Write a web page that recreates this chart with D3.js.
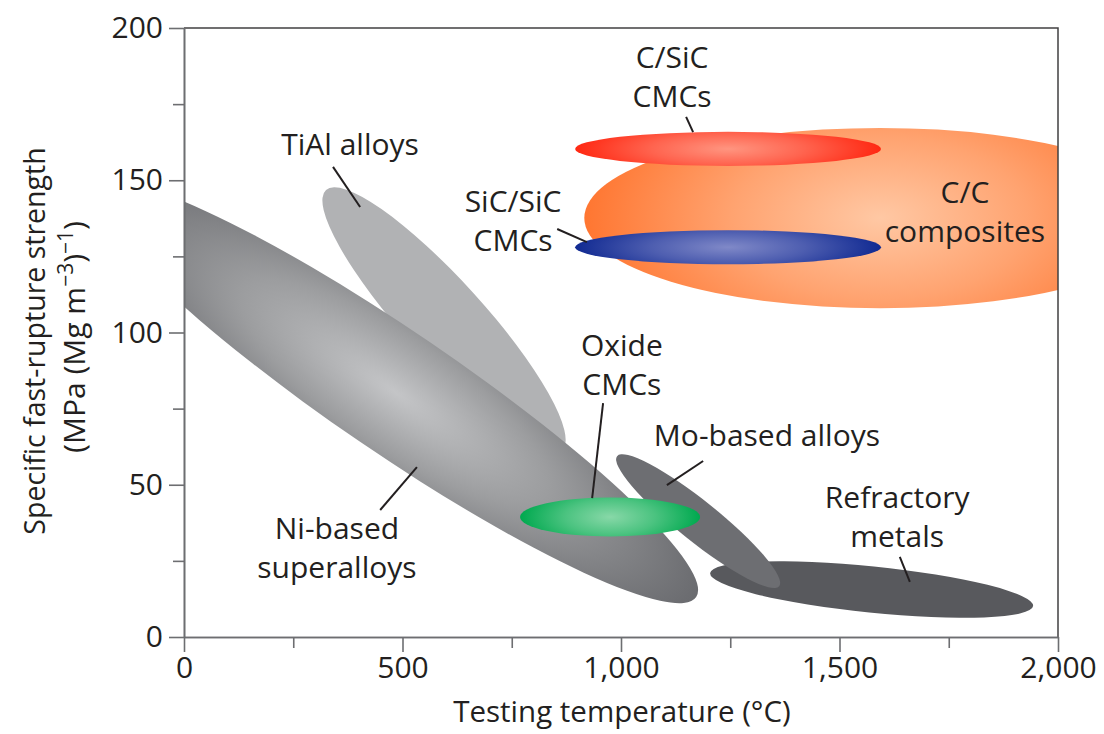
<!DOCTYPE html>
<html>
<head>
<meta charset="utf-8">
<script src="https://cdn.jsdelivr.net/npm/d3@7"></script>
<style>
  body { margin: 0; background: #fff; }
  text { font-family: "Open Sans", sans-serif; fill: #231f20; }
</style>
</head>
<body>
<div id="chart"></div>
<script>
// Material fields, in draw order (later ones sit on top).
// Each field is an ellipse: major axis runs from (tFrom, sFrom) to (tTo, sTo),
// sSpread is the half-thickness in strength units.
var materials = ['TiAl', 'Ni', 'Refractory', 'Mo', 'Oxide', 'CC', 'CSiC', 'SiCSiC'];
var tFrom   = [325, -206, 1204,  991,  769,  916,  895,  895];
var tTo     = [865, 1172, 1943, 1362, 1181, 2270, 1595, 1595];
var sFrom   = [146.8, 147.8, 21.0, 59.4, 39.4, 137.6, 160.3, 128.0];
var sTo     = [61.4,  13.1,  10.2, 16.7, 39.4, 137.6, 160.3, 128.0];
var sSpread = [13.1,  20.0,  7.6,  6.6,  6.4,  29.6,  5.6,   5.6];
var edgeColor = ['#b1b2b4', '#6a6b6f', '#58595d', '#6d6e72', '#00a94f', '#ff7631', '#ff2812', '#112a92'];
var coreColor = [null, '#c4c5c7', null, null, '#88d8a8', '#ffc8a4', '#ff9580', '#8089c8'];

// Labels: lines of text, centre temperature, baseline strength of the first line.
var labelLines = [['TiAl alloys'], ['Ni-based', 'superalloys'], ['Refractory', 'metals'],
                  ['Mo-based alloys'], ['Oxide', 'CMCs'], ['C/C', 'composites'],
                  ['C/SiC', 'CMCs'], ['SiC/SiC', 'CMCs']];
var labelT = [380, 350, 1632, 1334, 1002, 1787, 1117, 753];
var labelS = [158.3, 32.2, 42.4, 62.7, 92.3, 142.5, 186.9, 139.6];
// Leader lines (from label to field)
var leadT1 = [341, 449, 1638, 1188, 959, null, 1149, 854];
var leadS1 = [154.4, 41.7, 26.3, 57.8, 76.8, null, 170.8, 134.0];
var leadT2 = [403, 533, 1661, 1105, 934, null, 1165, 922];
var leadS2 = [141.2, 55.8, 18.1, 49.9, 45.6, null, 165.8, 129.7];

var xMajor = [0, 500, 1000, 1500, 2000];
var xMinor = [250, 750, 1250, 1750];
var yMajor = [0, 50, 100, 150, 200];
var yMinor = [25, 75, 125, 175];

var W = 1104, H = 734;
var x = d3.scaleLinear().domain([0, 2000]).range([184, 1058]);
var y = d3.scaleLinear().domain([0, 200]).range([637, 28]);

var svg = d3.select('#chart').append('svg').attr('width', W).attr('height', H);
var defs = svg.append('defs');
defs.append('clipPath').attr('id', 'plot-clip').append('rect')
  .attr('x', x(0)).attr('y', y(200)).attr('width', x(2000) - x(0)).attr('height', y(0) - y(200));

var fields = materials.map(function (m, i) {
  var x1 = x(tFrom[i]), y1 = y(sFrom[i]), x2 = x(tTo[i]), y2 = y(sTo[i]);
  return {
    id: m, i: i,
    cx: (x1 + x2) / 2, cy: (y1 + y2) / 2,
    a: Math.hypot(x2 - x1, y2 - y1) / 2,
    b: y(0) - y(sSpread[i]),
    angle: Math.atan2(y2 - y1, x2 - x1) * 180 / Math.PI
  };
});

fields.forEach(function (f) {
  if (!coreColor[f.i]) return;
  var g = defs.append('radialGradient').attr('id', 'grad-' + f.id)
    .attr('gradientUnits', 'userSpaceOnUse')
    .attr('cx', 0).attr('cy', 0).attr('r', f.a)
    .attr('gradientTransform', 'scale(1,' + (1.8 * f.b / f.a) + ')');
  g.append('stop').attr('offset', 0).attr('stop-color', coreColor[f.i]);
  g.append('stop').attr('offset', 0.5).attr('stop-color', d3.interpolateRgb(coreColor[f.i], edgeColor[f.i])(0.45));
  g.append('stop').attr('offset', 1).attr('stop-color', edgeColor[f.i]);
});

svg.append('g').attr('clip-path', 'url(#plot-clip)')
  .selectAll('ellipse').data(fields).join('ellipse')
  .attr('transform', function (f) { return 'translate(' + f.cx + ',' + f.cy + ') rotate(' + f.angle + ')'; })
  .attr('rx', function (f) { return f.a; })
  .attr('ry', function (f) { return f.b; })
  .attr('fill', function (f) { return coreColor[f.i] ? 'url(#grad-' + f.id + ')' : edgeColor[f.i]; });

// leader lines
svg.append('g').selectAll('line').data(fields.filter(function (f) { return leadT1[f.i] != null; })).join('line')
  .attr('x1', function (f) { return x(leadT1[f.i]); }).attr('y1', function (f) { return y(leadS1[f.i]); })
  .attr('x2', function (f) { return x(leadT2[f.i]); }).attr('y2', function (f) { return y(leadS2[f.i]); })
  .attr('stroke', '#231f20').attr('stroke-width', 2);

// labels
svg.append('g').selectAll('text').data(fields).join('text')
  .attr('text-anchor', 'middle').attr('font-size', 30)
  .each(function (f) {
    var t = d3.select(this);
    labelLines[f.i].forEach(function (line, k) {
      t.append('tspan').attr('x', x(labelT[f.i])).attr('y', y(labelS[f.i]) + k * 39).text(line);
    });
  });

// frame
svg.append('path')
  .attr('d', 'M' + x(0) + ',' + y(200) + 'H' + x(2000) + 'V' + y(0))
  .attr('fill', 'none').attr('stroke', '#414042').attr('stroke-width', 1.5);

function styleAxis(g) {
  g.selectAll('path, line').attr('stroke', '#6d6e71').attr('stroke-width', 1.6);
  g.selectAll('text').attr('font-size', 30).attr('font-family', '"Open Sans", sans-serif').attr('fill', '#231f20');
}

svg.append('g').attr('transform', 'translate(0,' + y(0) + ')')
  .call(d3.axisBottom(x).tickValues(xMinor).tickSize(11).tickSizeOuter(0).tickFormat(''))
  .call(styleAxis);
svg.append('g').attr('transform', 'translate(0,' + y(0) + ')')
  .call(d3.axisBottom(x).tickValues(xMajor).tickSize(15).tickSizeOuter(0).tickPadding(5).tickFormat(d3.format(',')))
  .call(styleAxis);
svg.append('g').attr('transform', 'translate(' + x(0) + ',0)')
  .call(d3.axisLeft(y).tickValues(yMinor).tickSize(11).tickSizeOuter(0).tickFormat(''))
  .call(styleAxis);
svg.append('g').attr('transform', 'translate(' + x(0) + ',0)')
  .call(d3.axisLeft(y).tickValues(yMajor).tickSize(15).tickSizeOuter(0).tickPadding(6))
  .call(styleAxis);

// axis titles
svg.append('text').attr('x', 622).attr('y', 722).attr('text-anchor', 'middle')
  .attr('font-size', 29.5).text('Testing temperature (°C)');

var yt = svg.append('text').attr('transform', 'translate(45,341) rotate(-90)')
  .attr('text-anchor', 'middle').attr('font-size', 28.5);
yt.append('tspan').attr('x', 0).attr('y', 0).text('Specific fast-rupture strength');
var l2 = svg.append('text').attr('transform', 'translate(85,337) rotate(-90)')
  .attr('text-anchor', 'middle').attr('font-size', 30);
l2.append('tspan').text('(MPa (Mg m');
l2.append('tspan').attr('font-size', 21).attr('dy', -12).text('\u22123');
l2.append('tspan').attr('dy', 12).text(')');
l2.append('tspan').attr('font-size', 21).attr('dy', -12).text('\u22121');
l2.append('tspan').attr('dy', 12).text(')');
</script>
</body>
</html>
